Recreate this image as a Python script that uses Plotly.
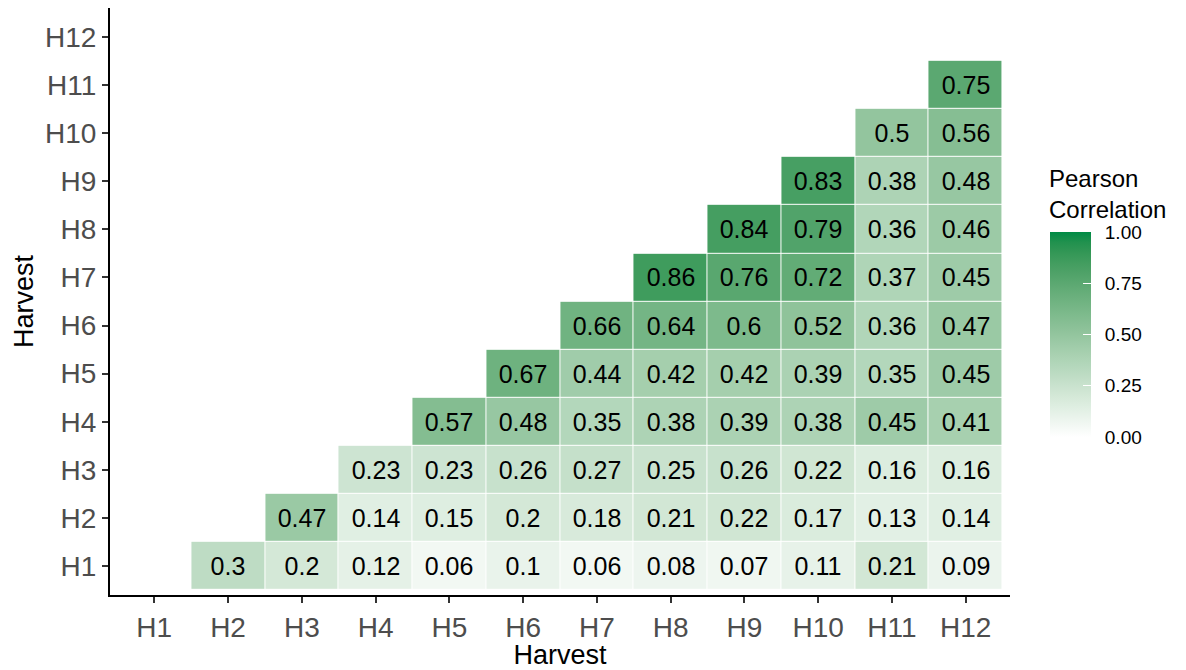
import numpy as np
import plotly.graph_objects as go

harvests = ["H1", "H2", "H3", "H4", "H5", "H6", "H7", "H8", "H9", "H10", "H11", "H12"]

# Pearson correlation per column harvest, listed from H1 upwards (upper triangle only)
col_H2 = [0.3]
col_H3 = [0.2, 0.47]
col_H4 = [0.12, 0.14, 0.23]
col_H5 = [0.06, 0.15, 0.23, 0.57]
col_H6 = [0.1, 0.2, 0.26, 0.48, 0.67]
col_H7 = [0.06, 0.18, 0.27, 0.35, 0.44, 0.66]
col_H8 = [0.08, 0.21, 0.25, 0.38, 0.42, 0.64, 0.86]
col_H9 = [0.07, 0.22, 0.26, 0.39, 0.42, 0.6, 0.76, 0.84]
col_H10 = [0.11, 0.17, 0.22, 0.38, 0.39, 0.52, 0.72, 0.79, 0.83]
col_H11 = [0.21, 0.13, 0.16, 0.45, 0.35, 0.36, 0.37, 0.36, 0.38, 0.5]
col_H12 = [0.09, 0.14, 0.16, 0.41, 0.45, 0.47, 0.45, 0.46, 0.48, 0.56, 0.75]

colorbar_ticks = [0, 0.25, 0.5, 0.75, 1.0]
colorbar_labels = ["0.00", "0.25", "0.50", "0.75", "1.00"]

columns = [[], col_H2, col_H3, col_H4, col_H5, col_H6, col_H7, col_H8,
           col_H9, col_H10, col_H11, col_H12]

n = len(harvests)
z = [[None] * n for _ in range(n)]
text = [[""] * n for _ in range(n)]
for j, col in enumerate(columns):
    for i, v in enumerate(col):
        z[i][j] = v
        text[i][j] = str(v)


# white -> green gradient interpolated in CIE Lab space
def srgb_to_lab(rgb):
    c = np.array(rgb, dtype=float) / 255.0
    c = np.where(c <= 0.04045, c / 12.92, ((c + 0.055) / 1.055) ** 2.4)
    m = np.array([[0.4124, 0.3576, 0.1805],
                  [0.2126, 0.7152, 0.0722],
                  [0.0193, 0.1192, 0.9505]])
    xyz = m @ c
    wp = np.array([0.95047, 1.0, 1.08883])
    t = xyz / wp
    f = np.where(t > (6 / 29) ** 3, np.cbrt(t), t / (3 * (6 / 29) ** 2) + 4 / 29)
    return np.array([116 * f[1] - 16, 500 * (f[0] - f[1]), 200 * (f[1] - f[2])])


def lab_to_srgb(lab):
    L, a, b = lab
    fy = (L + 16) / 116
    fx = fy + a / 500
    fz = fy - b / 200
    f = np.array([fx, fy, fz])
    t = np.where(f > 6 / 29, f ** 3, 3 * (6 / 29) ** 2 * (f - 4 / 29))
    xyz = t * np.array([0.95047, 1.0, 1.08883])
    minv = np.array([[3.2406, -1.5372, -0.4986],
                     [-0.9689, 1.8758, 0.0415],
                     [0.0557, -0.2040, 1.0570]])
    c = minv @ xyz
    c = np.clip(c, 0, 1)
    c = np.where(c <= 0.0031308, 12.92 * c, 1.055 * c ** (1 / 2.4) - 0.055)
    return tuple(int(round(v * 255)) for v in c)


low = srgb_to_lab((255, 255, 255))
high = srgb_to_lab((0, 139, 69))
colorscale = []
for k in range(21):
    t = k / 20
    r, g, b = lab_to_srgb(low + (high - low) * t)
    colorscale.append([t, f"rgb({r},{g},{b})"])

FONT = "Liberation Sans, Arial, sans-serif"

fig = go.Figure(go.Heatmap(
    z=z,
    x=harvests,
    y=harvests,
    text=text,
    texttemplate="%{text}",
    textfont=dict(family=FONT, size=25, color="black"),
    colorscale=colorscale,
    zmin=0,
    zmax=1,
    xgap=1,
    ygap=1,
    hoverongaps=False,
    colorbar=dict(
        thickness=41,
        thicknessmode="pixels",
        len=205,
        lenmode="pixels",
        x=1.0444,
        xanchor="left",
        xpad=0,
        y=0.4438,
        yanchor="middle",
        ypad=0,
        outlinewidth=0,
        tickvals=colorbar_ticks,
        # en space keeps the labels clear of the bar
        ticktext=["\u2002" + s for s in colorbar_labels],
        ticks="inside",
        ticklen=8,
        tickcolor="white",
        tickwidth=1,
        tickfont=dict(family=FONT, size=19, color="black"),
    ),
))

axis_common = dict(
    showgrid=False,
    zeroline=False,
    showline=True,
    linecolor="black",
    linewidth=2,
    ticks="outside",
    ticklen=6,
    tickwidth=1.5,
    tickcolor="#333333",
    tickfont=dict(family=FONT, size=28, color="#4d4d4d"),
    range=[-0.6, 11.6],
    fixedrange=True,
)

fig.update_xaxes(
    **axis_common,
    type="category",
    categoryorder="array",
    categoryarray=harvests,
    title=dict(text="Harvest", font=dict(family=FONT, size=27, color="black"), standoff=2),
)
fig.update_yaxes(
    **axis_common,
    type="category",
    categoryorder="array",
    categoryarray=harvests,
    title=dict(text="Harvest", font=dict(family=FONT, size=27, color="black"), standoff=4),
)

# legend title drawn above the colour bar
fig.add_annotation(
    text="Pearson<br>Correlation",
    xref="paper", yref="paper",
    x=1.0444, y=0.7274,
    xanchor="left", yanchor="top",
    xshift=-3, yshift=5,
    align="left",
    showarrow=False,
    font=dict(family=FONT, size=24, color="black"),
)

fig.update_layout(
    width=1186,
    height=670,
    margin=dict(l=110, r=176, t=8, b=75, autoexpand=False),
    plot_bgcolor="white",
    paper_bgcolor="white",
    font=dict(family=FONT),
)

fig.write_html("out.html")
